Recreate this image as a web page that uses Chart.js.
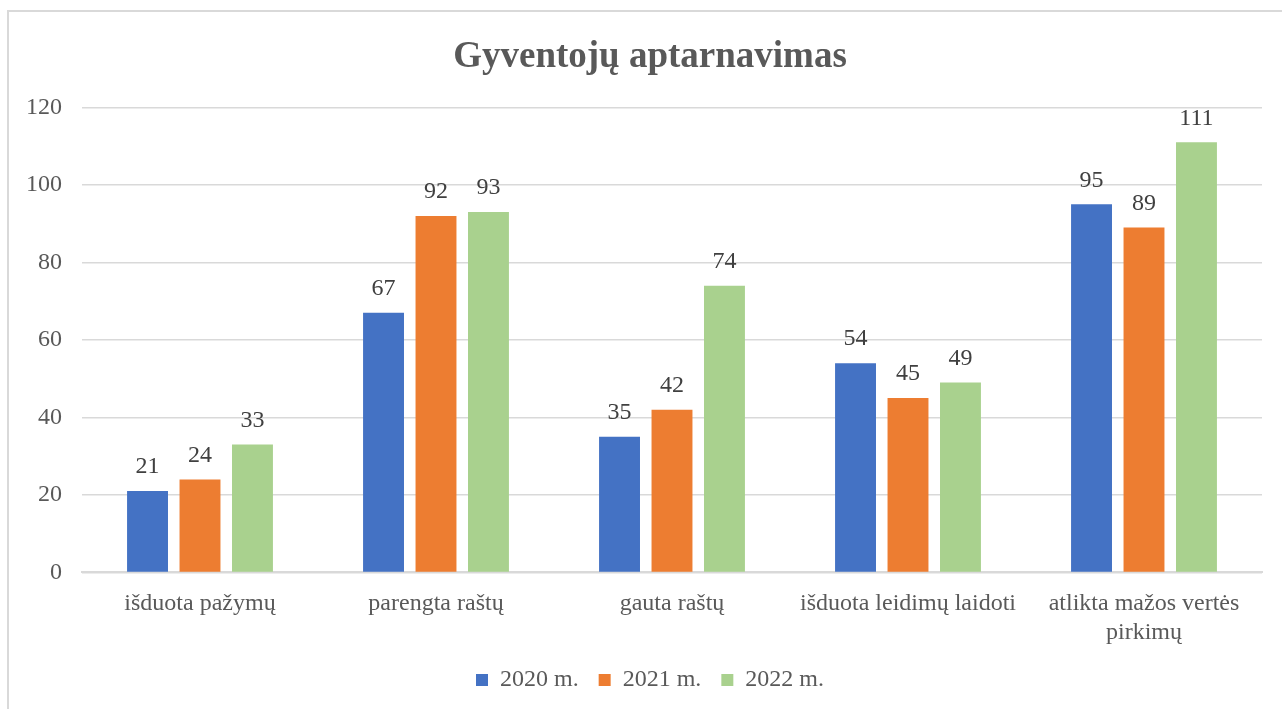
<!DOCTYPE html>
<html>
<head>
<meta charset="utf-8">
<script src="https://cdn.jsdelivr.net/npm/chart.js@4"></script>
<style>
  html, body { margin: 0; padding: 0; background: #fff; overflow: hidden; }
  #frame { position: absolute; left: 7px; top: 10px; width: 1300px; height: 720px; border: 2px solid #d9d9d9; box-sizing: border-box; }
  #wrap { position: absolute; left: 0; top: 0; width: 1300px; height: 709px; }
</style>
</head>
<body>
<div id="frame"></div>
<div id="wrap"><canvas id="chart" width="1300" height="709"></canvas></div>
<script>
// Gyventojų aptarnavimas - 2020-2022 m.
const categories = [
    'išduota pažymų',
    'parengta raštų',
    'gauta raštų',
    'išduota leidimų laidoti',
    ['atlikta mažos vertės', 'pirkimų']
];
const values2020 = [21, 67, 35, 54, 95];
const values2021 = [24, 92, 42, 45, 89];
const values2022 = [33, 93, 74, 49, 111];
const seriesNames = ['2020 m.', '2021 m.', '2022 m.'];

const FONT = '"Liberation Serif", "Times New Roman", serif';

// etiketės virš stulpelių
const valueLabels = {
    id: 'valueLabels',
    afterDatasetsDraw(chart) {
        const ctx = chart.ctx;
        ctx.save();
        ctx.font = '24px ' + FONT;
        ctx.fillStyle = '#404040';
        ctx.textAlign = 'center';
        ctx.textBaseline = 'middle';
        chart.data.datasets.forEach((ds, i) => {
            chart.getDatasetMeta(i).data.forEach((bar, j) => {
                ctx.fillText(ds.data[j], bar.x, bar.y - 24);
            });
        });
        ctx.restore();
    }
};

new Chart(document.getElementById('chart'), {
    type: 'bar',
    data: {
        labels: categories,
        datasets: [
            { label: seriesNames[0], data: values2020, backgroundColor: '#4472C4' },
            { label: seriesNames[1], data: values2021, backgroundColor: '#ED7D31' },
            { label: seriesNames[2], data: values2022, backgroundColor: '#A9D18E' }
        ]
    },
    options: {
        responsive: false,
        animation: false,
        datasets: { bar: { categoryPercentage: 0.667, barPercentage: 0.78 } },
        layout: { padding: { left: 0, right: 0, top: 0, bottom: 7 } },
        plugins: {
            title: {
                display: true,
                text: 'Gyventojų aptarnavimas',
                color: '#595959',
                font: { family: FONT, size: 37, weight: 'bold', lineHeight: 1.2 },
                padding: { top: 35, bottom: 28 }
            },
            legend: {
                position: 'bottom',
                labels: {
                    color: '#595959',
                    font: { family: FONT, size: 24 },
                    boxWidth: 12,
                    boxHeight: 12,
                    padding: 20
                }
            },
            tooltip: { enabled: false }
        },
        scales: {
            x: {
                afterFit(scale) { scale.height -= 16; },
                grid: { display: false, drawTicks: false },
                border: { color: '#d9d9d9', width: 2 },
                ticks: { color: '#595959', font: { family: FONT, size: 24 }, padding: 17, maxRotation: 0 }
            },
            y: {
                min: 0,
                max: 120,
                afterFit(scale) { scale.width = 82; },
                grid: { color: '#d9d9d9', lineWidth: 1.5, drawTicks: false },
                border: { display: false },
                ticks: { stepSize: 20, color: '#595959', font: { family: FONT, size: 24 }, padding: 20 }
            },
            // tuščia dešinė ašis - tarpas iki rėmelio
            y2: {
                position: 'right',
                afterFit(scale) { scale.width = 38; },
                grid: { display: false, drawTicks: false },
                border: { display: false },
                ticks: { display: false }
            }
        }
    },
    plugins: [valueLabels]
});
</script>
</body>
</html>
